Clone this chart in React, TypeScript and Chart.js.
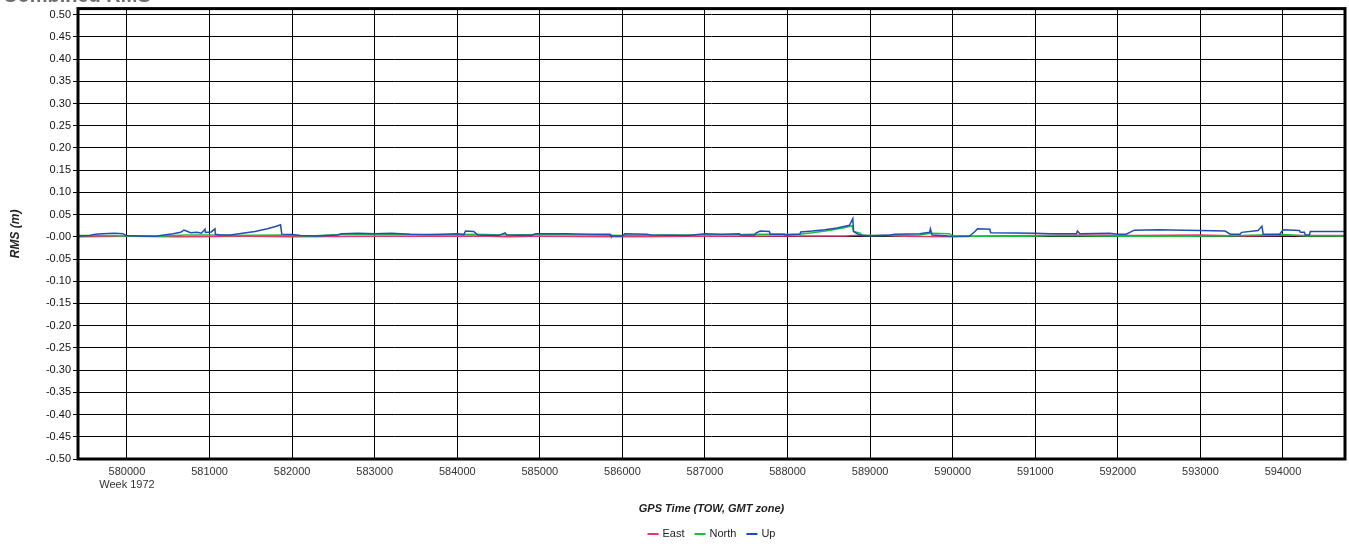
import React, { useEffect, useRef } from "react";
import { Chart, registerables } from "chart.js";

Chart.register(...registerables);

const FONT = "'Liberation Sans', Arial, sans-serif";

const xTicks = [580000, 581000, 582000, 583000, 584000, 585000, 586000, 587000, 588000, 589000, 590000, 591000, 592000, 593000, 594000];
const yTicks = [-0.5, -0.45, -0.4, -0.35, -0.3, -0.25, -0.2, -0.15, -0.1, -0.05, 0, 0.05, 0.1, 0.15, 0.2, 0.25, 0.3, 0.35, 0.4, 0.45, 0.5];
const weekLabel = "Week 1972";
const legendNames = ["East", "North", "Up"];
const seriesColors = ["#e8336b", "#19c03c", "#1f4fb5"];

const upTime = [579410, 579550, 579620, 579700, 579850, 579950, 579990, 580150, 580350, 580450, 580560, 580650, 580690, 580720, 580770, 580850, 580900, 580945, 580950, 581020, 581066, 581070, 581130, 581250, 581400, 581550, 581700, 581800, 581860, 581875, 582000, 582100, 582300, 582550, 582600, 582800, 583000, 583200, 583430, 583650, 583800, 584000, 584080, 584100, 584200, 584250, 584500, 584580, 584600, 584900, 584950, 585300, 585600, 585850, 585860, 586000, 586030, 586300, 586340, 586800, 587000, 587200, 587420, 587430, 587600, 587620, 587670, 587780, 587790, 587960, 587970, 588150, 588160, 588300, 588450, 588600, 588750, 588790, 588800, 588870, 589000, 589240, 589300, 589600, 589720, 589730, 589750, 589950, 590200, 590270, 590300, 590450, 590460, 591000, 591180, 591500, 591510, 591540, 591900, 592000, 592100, 592200, 592500, 592800, 593000, 593300, 593360, 593480, 593500, 593700, 593745, 593760, 593960, 594000, 594200, 594210, 594260, 594270, 594320, 594330, 594750];
const upValues = [0.002, 0.003, 0.006, 0.007, 0.008, 0.007, 0.003, 0.002, 0.001, 0.004, 0.007, 0.010, 0.015, 0.013, 0.009, 0.010, 0.008, 0.017, 0.010, 0.011, 0.018, 0.006, 0.004, 0.004, 0.008, 0.012, 0.018, 0.023, 0.027, 0.006, 0.005, 0.003, 0.002, 0.004, 0.007, 0.008, 0.007, 0.008, 0.006, 0.005, 0.006, 0.007, 0.005, 0.013, 0.012, 0.004, 0.003, 0.009, 0.004, 0.003, 0.007, 0.007, 0.006, 0.006, 0.002, 0.002, 0.007, 0.006, 0.004, 0.003, 0.007, 0.006, 0.007, 0.004, 0.004, 0.009, 0.013, 0.012, 0.006, 0.006, 0.004, 0.006, 0.011, 0.013, 0.016, 0.020, 0.026, 0.041, 0.012, 0.004, 0.002, 0.004, 0.006, 0.007, 0.010, 0.018, 0.004, 0.002, 0.001, 0.012, 0.018, 0.017, 0.009, 0.008, 0.007, 0.007, 0.013, 0.007, 0.008, 0.006, 0.006, 0.015, 0.016, 0.015, 0.014, 0.013, 0.006, 0.006, 0.010, 0.014, 0.024, 0.006, 0.006, 0.016, 0.014, 0.010, 0.010, 0.004, 0.004, 0.012, 0.012];

const northTime = [579410, 579700, 580000, 580400, 580700, 581000, 581200, 581870, 582200, 582600, 583400, 583800, 584200, 584600, 585000, 585600, 586000, 586500, 587000, 587450, 587600, 587800, 588150, 588300, 588500, 588700, 588780, 588800, 588880, 588900, 589300, 589600, 589730, 589960, 590000, 590400, 590900, 591300, 591700, 592200, 592800, 593300, 593700, 594000, 594300, 594750];
const northValues = [0.003, 0.003, 0.002, 0.001, 0.004, 0.004, 0.003, 0.004, 0.002, 0.005, 0.005, 0.004, 0.006, 0.004, 0.005, 0.004, 0.003, 0.004, 0.004, 0.005, 0.006, 0.006, 0.006, 0.009, 0.014, 0.021, 0.025, 0.012, 0.008, 0.003, 0.003, 0.004, 0.008, 0.007, 0.001, 0.002, 0.001, 0.003, 0.002, 0.001, 0.001, 0.002, 0.004, 0.005, 0.002, 0.002];

const eastTime = [579410, 580000, 580600, 581500, 582000, 583000, 584300, 584600, 585000, 586000, 587000, 588000, 588700, 588800, 589200, 589400, 590000, 590500, 591000, 591600, 592200, 593000, 593500, 594000, 594750];
const eastValues = [0.000, 0.001, 0.000, 0.001, 0.000, 0.001, 0.002, 0.000, 0.001, 0.000, 0.001, 0.002, 0.002, 0.003, 0.003, 0.001, 0.000, 0.002, 0.003, 0.004, 0.003, 0.004, 0.002, 0.003, 0.003];

const toPoints = (t: number[], v: number[]) => t.map((x, i) => ({ x, y: v[i] }));

const decorPlugin = {
  id: "decor",
  afterDatasetsDraw(chart: any) {
    const { ctx, chartArea } = chart;
    const { left, right, top, bottom } = chartArea;
    ctx.save();
    ctx.strokeStyle = "#000";
    ctx.lineWidth = 3;
    ctx.strokeRect(left, top, right - left, bottom - top);
    ctx.restore();
  },
  afterDraw(chart: any) {
    const { ctx, chartArea } = chart;
    const { left, right, top, bottom } = chartArea;
    const cx = (left + right) / 2;
    ctx.save();
    // cut-off title
    ctx.fillStyle = "#6e6e6e";
    ctx.font = `bold 20px ${FONT}`;
    ctx.textAlign = "left";
    ctx.textBaseline = "alphabetic";
    ctx.fillText("Combined RMS", 3, 2);
    // x title
    ctx.fillStyle = "#222";
    ctx.font = `italic bold 11px ${FONT}`;
    ctx.textAlign = "center";
    ctx.textBaseline = "middle";
    ctx.fillText("GPS Time (TOW, GMT zone)", cx, 509);
    // y title
    ctx.save();
    ctx.font = `italic bold 12px ${FONT}`;
    ctx.translate(16, (top + bottom) / 2);
    ctx.rotate(-Math.PI / 2);
    ctx.fillText("RMS (m)", 0, 0);
    ctx.restore();
    // legend
    ctx.font = `11px ${FONT}`;
    ctx.textAlign = "left";
    ctx.textBaseline = "middle";
    const ly = 534;
    const gap = 10;
    const lineW = 11;
    const widths = legendNames.map((n) => lineW + 4 + ctx.measureText(n).width);
    const total = widths.reduce((a, b) => a + b, 0) + gap * (legendNames.length - 1);
    let x = cx - total / 2;
    legendNames.forEach((n, i) => {
      ctx.strokeStyle = seriesColors[i];
      ctx.lineWidth = 2;
      ctx.beginPath();
      ctx.moveTo(x, ly);
      ctx.lineTo(x + lineW, ly);
      ctx.stroke();
      ctx.fillStyle = "#222";
      ctx.fillText(n, x + lineW + 4, ly);
      x += widths[i] + gap;
    });
    ctx.restore();
  },
};

export default function App() {
  const ref = useRef<HTMLCanvasElement>(null);
  useEffect(() => {
    if (!ref.current) return;
    const mk = (label: string, t: number[], v: number[], color: string, order: number) => ({
      label,
      data: toPoints(t, v),
      borderColor: color,
      backgroundColor: color,
      borderWidth: 1.5,
      pointRadius: 0,
      tension: 0,
      order,
    });
    const chart = new Chart(ref.current, {
      type: "line",
      data: {
        datasets: [
          mk(legendNames[0], eastTime, eastValues, seriesColors[0], 3),
          mk(legendNames[1], northTime, northValues, seriesColors[1], 2),
          mk(legendNames[2], upTime, upValues, seriesColors[2], 1),
        ],
      },
      options: {
        responsive: false,
        animation: false,
        devicePixelRatio: 1,
        layout: { padding: { top: 8, right: 4, left: 0, bottom: 0 } },
        plugins: { legend: { display: false }, tooltip: { enabled: false }, title: { display: false } },
        scales: {
          x: {
            type: "linear",
            min: 579407,
            max: 594751,
            afterBuildTicks: (s: any) => {
              s.ticks = xTicks.map((v) => ({ value: v }));
            },
            afterFit: (s: any) => {
              s.height = 85;
            },
            grid: { color: "#000", lineWidth: 1, drawTicks: false },
            border: { display: false },
            ticks: {
              maxRotation: 0,
              autoSkip: false,
              padding: 6,
              color: "#333",
              font: { family: FONT, size: 11 },
              callback: (v: any, i: number) => (i === 0 ? [String(v), weekLabel] : String(v)),
            },
          },
          y: {
            type: "linear",
            min: -0.5,
            max: 0.5135,
            afterBuildTicks: (s: any) => {
              s.ticks = yTicks.map((v) => ({ value: v }));
            },
            afterFit: (s: any) => {
              s.width = 78;
            },
            grid: { color: "#000", lineWidth: 1, drawTicks: true, tickLength: 5 },
            border: { display: false },
            ticks: {
              autoSkip: false,
              padding: 2,
              color: "#111",
              font: { family: FONT, size: 11 },
              callback: (v: any) => {
                const n = Number(v);
                if (Math.abs(n) < 1e-9) return "-0.00";
                return n.toFixed(2);
              },
            },
          },
        },
      },
      plugins: [decorPlugin],
    } as any);
    return () => chart.destroy();
  }, []);
  return (
    <div style={{ position: "absolute", left: 0, top: 0, width: 1349, height: 544, background: "#fff" }}>
      <canvas ref={ref} width={1349} height={544} style={{ display: "block" }} />
    </div>
  );
}
